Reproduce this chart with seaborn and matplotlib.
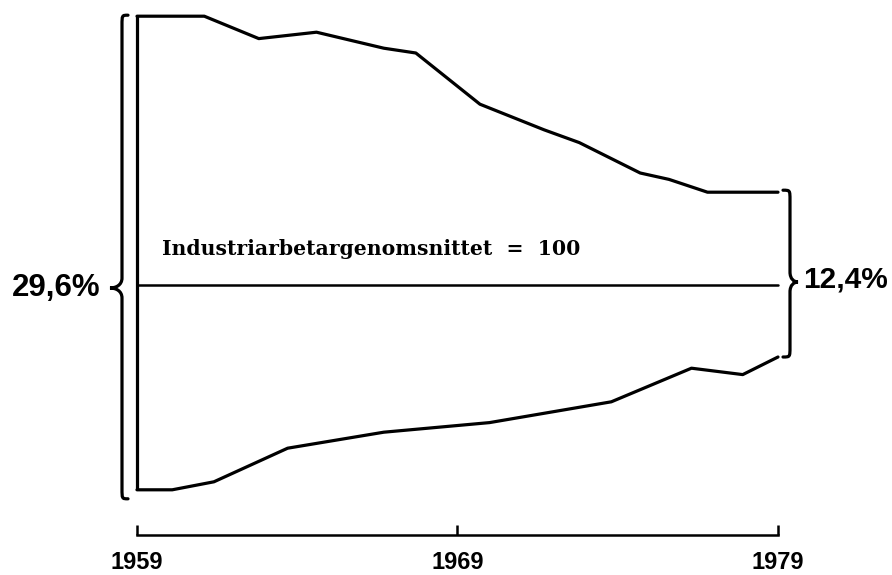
import numpy as np
import pandas as pd
import matplotlib
matplotlib.use('Agg')
import matplotlib.pyplot as plt
import seaborn as sns
from matplotlib.path import Path
from matplotlib.patches import PathPatch

# values (index, industrial worker average = 100)
upper_years = [1959.0, 1961.1, 1962.8, 1964.6, 1966.7, 1967.7, 1969.7, 1971.7, 1972.8, 1974.7, 1975.6, 1976.8, 1979.0]
upper_index = [116.8, 116.8, 115.4, 115.8, 114.8, 114.5, 111.3, 109.7, 108.9, 107.0, 106.6, 105.8, 105.8]
lower_years = [1959.0, 1960.1, 1961.4, 1963.7, 1966.7, 1970.0, 1973.8, 1976.3, 1977.9, 1979.0]
lower_index = [87.2, 87.2, 87.7, 89.8, 90.8, 91.4, 92.7, 94.8, 94.4, 95.5]
baseline = 100
tick_years = [1959, 1969, 1979]
spread_labels = ['29,6%', '12,4%']
baseline_label = 'Industriarbetargenomsnittet  =  100'

upper = pd.DataFrame({'year': upper_years, 'index': upper_index})
lower = pd.DataFrame({'year': lower_years, 'index': lower_index})

sns.set_style('white')
plt.rcParams['font.family'] = ['Liberation Sans', 'DejaVu Sans']
plt.rcParams['text.color'] = 'black'

W, H = 892, 575
fig = plt.figure(figsize=(W / 100, H / 100), dpi=100)
ax = fig.add_axes([0, 40 / H, 1, 535 / H])

x0, x1 = 1954.7255, 1982.557
y0, y1 = 84.375, 117.8125
ax.set_xlim(x0, x1)
ax.set_ylim(y0, y1)
sx = (x1 - x0) / W      # years per pixel
sy = (y1 - y0) / 535    # index units per pixel

sns.lineplot(data=upper, x='year', y='index', color='black', lw=2.3, sort=False, ax=ax, clip_on=False)
sns.lineplot(data=lower, x='year', y='index', color='black', lw=2.3, sort=False, ax=ax, clip_on=False)
ax.vlines(upper_years[0], lower_index[0], upper_index[0], color='black', lw=2.3)
ax.plot([tick_years[0], tick_years[-1]], [baseline, baseline], color='black', lw=1.8)


def draw_brace(x, top, bot, mid, depth, hook, r=10):
    # depth/hook/r in pixels, sign gives direction
    ry = r * sy
    tip = x + depth * sx
    verts = [(x + hook * sx, top),
             (x, top), (x, top), (x, top - ry),
             (x, mid + ry),
             (x, mid + 0.3 * ry), (x + 0.5 * depth * sx, mid), (tip, mid),
             (x + 0.5 * depth * sx, mid), (x, mid - 0.3 * ry), (x, mid - ry),
             (x, bot + ry),
             (x, bot), (x, bot), (x + hook * sx, bot)]
    codes = ([Path.MOVETO] + [Path.CURVE4] * 3 + [Path.LINETO] + [Path.CURVE4] * 6
             + [Path.LINETO] + [Path.CURVE4] * 3)
    ax.add_patch(PathPatch(Path(verts, codes), fill=False, lw=2.3, color='black',
                           capstyle='round', clip_on=False))
    return tip


tl = draw_brace(upper_years[0] - 15 * sx, upper_index[0] + 1 * sy, lower_index[0] - 9 * sy,
                baseline - 3 * sy, depth=-12, hook=6)
tr = draw_brace(upper_years[-1] + 12 * sx, upper_index[-1] + 2 * sy, lower_index[-1],
                baseline + 3 * sy, depth=8, hook=-7)

ax.text(tl - 9 * sx, baseline - 3 * sy, spread_labels[0], ha='right', va='center',
        fontsize=22.5, fontweight='bold')
ax.text(tr + 5 * sx, baseline + 6 * sy, spread_labels[1], ha='left', va='center',
        fontsize=21.5, fontweight='bold')
ax.text(upper_years[0] + 25 * sx, baseline + 30 * sy, baseline_label, ha='left', va='baseline',
        fontsize=14.7, fontweight='bold', family=['DejaVu Serif'])

# x axis
for s in ['top', 'right', 'left']:
    ax.spines[s].set_visible(False)
ax.spines['bottom'].set_bounds(tick_years[0], tick_years[-1])
ax.spines['bottom'].set_linewidth(1.8)
ax.spines['bottom'].set_color('black')
ax.set_xticks(tick_years)
ax.set_xticklabels([str(y) for y in tick_years])
ax.set_yticks([])
ax.tick_params(axis='x', direction='in', length=7, width=1.8, pad=11.5, labelsize=17,
               colors='black', bottom=True)
for lab in ax.get_xticklabels():
    lab.set_fontweight('bold')
ax.set_xlabel('')
ax.set_ylabel('')
ax.patch.set_alpha(0)

fig.savefig('out.png', dpi=100, facecolor='white')
